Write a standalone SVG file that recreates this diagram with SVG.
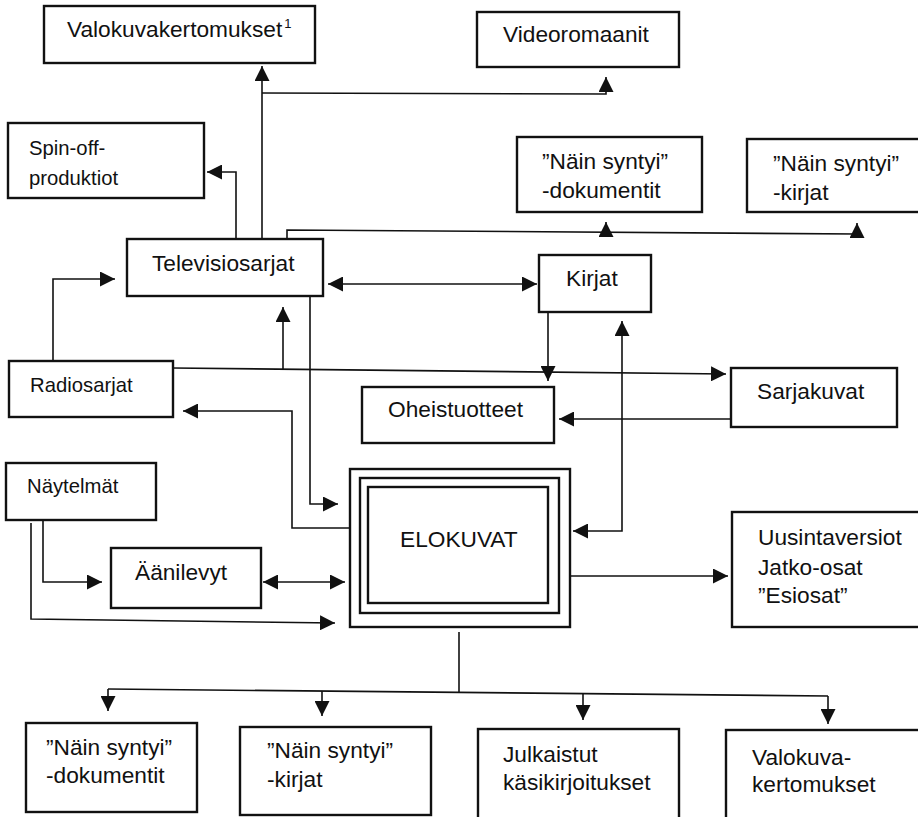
<svg xmlns="http://www.w3.org/2000/svg" width="918" height="817" viewBox="0 0 918 817">
<defs>
<marker id="ah" viewBox="0 0 15 15" markerWidth="15" markerHeight="15" refX="15" refY="7.5" orient="auto-start-reverse" markerUnits="userSpaceOnUse">
<path d="M0,0 L15,7.5 L0,15 z" fill="#111"/>
</marker>
<style>
.box{fill:#fff;stroke:#111;stroke-width:2.4}
.ln{fill:none;stroke:#111;stroke-width:1.6}
.a{marker-end:url(#ah)}
.b{marker-start:url(#ah);marker-end:url(#ah)}
text{font-family:"Liberation Sans",Arial,sans-serif;font-size:22.7px;fill:#111}
.s{font-size:20.3px}
</style>
</defs>
<rect width="918" height="817" fill="#fff"/>

<g id="connectors">
<path class="ln a" d="M262,239 V66"/>
<path class="ln a" d="M262,93 L606,94 V77"/>
<path class="ln a" d="M236,239 V172 H207"/>
<path class="ln" d="M287,239 V230 L857,234"/>
<path class="ln a" d="M606,237 V222"/>
<path class="ln a" d="M857,238 V223"/>
<path class="ln b" d="M328,284 H537"/>
<path class="ln a" d="M53,361 V279 H115"/>
<path class="ln a" d="M173,368 L726,374"/>
<path class="ln a" d="M283,370 V307"/>
<path class="ln a" d="M310,296 V504 H338"/>
<path class="ln a" d="M350,528 H292 V411 H183"/>
<path class="ln a" d="M548,312 V381"/>
<path class="ln b" d="M622,321 V531 H573"/>
<path class="ln a" d="M731,419 H559"/>
<path class="ln a" d="M43,520 V582 H102"/>
<path class="ln a" d="M31,523 V619 L335,623"/>
<path class="ln b" d="M263,582 H345"/>
<path class="ln a" d="M570,576 H728"/>
<path class="ln" d="M459,632 V692"/>
<path class="ln" d="M108,689 L828,696"/>
<path class="ln a" d="M108,689 V711"/>
<path class="ln a" d="M322,691 V716"/>
<path class="ln a" d="M583,693 V720"/>
<path class="ln a" d="M828,696 V724"/>
</g>

<g id="valokuvakertomukset-top">
<rect class="box" x="44" y="6" width="271" height="57"/>
<text x="67" y="37">Valokuvakertomukset<tspan dx="2" dy="-9" font-size="13">1</tspan></text>
</g>
<g id="videoromaanit">
<rect class="box" x="477" y="12" width="202" height="55"/>
<text x="503" y="42">Videoromaanit</text>
</g>
<g id="spinoff">
<rect class="box" x="8" y="123" width="196" height="75"/>
<text class="s" x="29" y="155">Spin-off-</text>
<text class="s" x="29" y="185">produktiot</text>
</g>
<g id="nainsyntyi-dok-top">
<rect class="box" x="517" y="137" width="185" height="75"/>
<text x="542" y="169">”Näin syntyi”</text>
<text x="542" y="198">-dokumentit</text>
</g>
<g id="nainsyntyi-kirjat-top">
<rect class="box" x="747" y="139" width="180" height="73"/>
<text x="773" y="171">”Näin syntyi”</text>
<text x="773" y="200">-kirjat</text>
</g>
<g id="televisiosarjat">
<rect class="box" x="127" y="239" width="196" height="57"/>
<text x="152" y="271">Televisiosarjat</text>
</g>
<g id="kirjat">
<rect class="box" x="539" y="255" width="112" height="57"/>
<text x="566" y="286">Kirjat</text>
</g>
<g id="radiosarjat">
<rect class="box" x="9" y="361" width="164" height="56"/>
<text class="s" x="30" y="392">Radiosarjat</text>
</g>
<g id="oheistuotteet">
<rect class="box" x="362" y="387" width="192" height="56"/>
<text x="388" y="417">Oheistuotteet</text>
</g>
<g id="sarjakuvat">
<rect class="box" x="731" y="368" width="166" height="59"/>
<text x="757" y="399">Sarjakuvat</text>
</g>
<g id="naytelmat">
<rect class="box" x="6" y="463" width="150" height="57"/>
<text class="s" x="27" y="493">Näytelmät</text>
</g>
<g id="aanilevyt">
<rect class="box" x="111" y="548" width="150" height="60"/>
<text x="135" y="580">Äänilevyt</text>
</g>
<g id="elokuvat">
<rect class="box" x="350" y="469" width="220" height="158"/>
<rect class="box" x="360" y="478" width="199" height="135"/>
<rect class="box" x="368" y="487" width="180" height="116"/>
<text x="400" y="547">ELOKUVAT</text>
</g>
<g id="uusintaversiot">
<rect class="box" x="732" y="512" width="195" height="115"/>
<text x="758" y="545">Uusintaversiot</text>
<text x="758" y="575">Jatko-osat</text>
<text x="758" y="603">”Esiosat”</text>
</g>
<g id="nainsyntyi-dok-bottom">
<rect class="box" x="26" y="723" width="171" height="89"/>
<text x="46" y="755">”Näin syntyi”</text>
<text x="46" y="783">-dokumentit</text>
</g>
<g id="nainsyntyi-kirjat-bottom">
<rect class="box" x="240" y="727" width="191" height="88"/>
<text x="267" y="758">”Näin syntyi”</text>
<text x="267" y="787">-kirjat</text>
</g>
<g id="julkaistut">
<rect class="box" x="478" y="729" width="201" height="92"/>
<text x="503" y="762">Julkaistut</text>
<text x="503" y="790">käsikirjoitukset</text>
</g>
<g id="valokuvakertomukset-bottom">
<rect class="box" x="726" y="730" width="201" height="92"/>
<text x="752" y="765">Valokuva-</text>
<text x="752" y="792">kertomukset</text>
</g>
</svg>
